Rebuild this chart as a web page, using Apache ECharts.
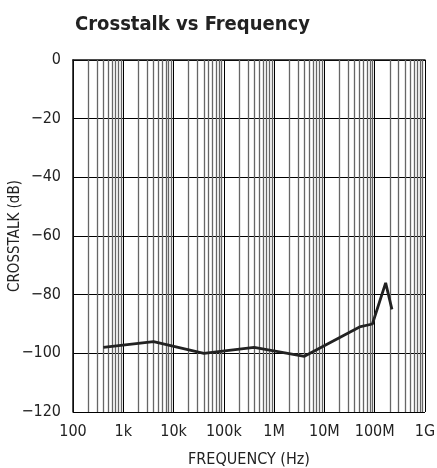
<!DOCTYPE html>
<html>
<head>
<meta charset="UTF-8">
<title>Crosstalk vs Frequency</title>
<script src="https://cdn.jsdelivr.net/npm/echarts@6/dist/echarts.min.js"></script>
<style>
  html, body { margin: 0; padding: 0; background: #fff; }
  #container { width: 437px; height: 468px; }
</style>
</head>
<body>
<div id="container"></div>
<script>
// data
var freqHz = [400, 4e3, 40e3, 400e3, 4e6, 50e6, 90e6, 165e6, 220e6];
var crosstalkDb = [-98, -96, -100, -98, -101, -91, -90, -76, -85];

// tick labels
var xTickValues = [1e2, 1e3, 1e4, 1e5, 1e6, 1e7, 1e8, 1e9];
var xTickLabels = ['100', '1k', '10k', '100k', '1M', '10M', '100M', '1G'];
var yTickValues = [0, -20, -40, -60, -80, -100, -120];
var yTickLabels = ['0', '\u221220', '\u221240', '\u221260', '\u221280', '\u2212100', '\u2212120'];

var font = "'Liberation Sans Narrow', 'DejaVu Sans Condensed', sans-serif";

// minor log grid lines (2..9 in every decade)
var minorLines = [];
for (var d = 0; d < xTickValues.length - 1; d++) {
  for (var m = 2; m <= 9; m++) {
    minorLines.push({ xAxis: xTickValues[d] * m });
  }
}

var points = freqHz.map(function (f, i) { return [f, crosstalkDb[i]]; });

var dom = document.getElementById('container');
var myChart = echarts.init(dom, null, { renderer: 'canvas' });

var option = {
  animation: false,
  title: {
    text: 'Crosstalk vs Frequency',
    left: 70,
    top: 10,
    textStyle: { fontFamily: font, fontWeight: 'bold', fontSize: 20, color: '#222' }
  },
  grid: { left: 73, right: 12, top: 60, bottom: 56, containLabel: false, outerBoundsMode: 'none' },
  xAxis: {
    type: 'log',
    logBase: 10,
    min: 100,
    max: 1e9,
    name: 'FREQUENCY (Hz)',
    nameLocation: 'middle',
    nameGap: 40,
    nameMoveOverlap: false,
    nameTextStyle: { fontFamily: font, fontSize: 16, color: '#222' },
    axisLine: { show: true, lineStyle: { color: '#111', width: 1.5 } },
    axisTick: { show: false },
    axisLabel: {
      margin: 12,
      fontFamily: font,
      fontSize: 16,
      color: '#222',
      formatter: function (v) {
        var i = xTickValues.findIndex(function (t) { return Math.abs(t - v) / t < 1e-6; });
        return i >= 0 ? xTickLabels[i] : '';
      }
    },
    splitLine: { show: true, lineStyle: { color: '#000', width: 1 } }
  },
  yAxis: {
    type: 'value',
    min: -120,
    max: 0,
    interval: 20,
    name: 'CROSSTALK (dB)',
    nameLocation: 'middle',
    nameGap: 50,
    nameMoveOverlap: false,
    nameTextStyle: { fontFamily: font, fontSize: 15, color: '#222' },
    axisLine: { show: true, lineStyle: { color: '#111', width: 1.5 } },
    axisTick: { show: false },
    axisLabel: {
      margin: 12,
      fontFamily: font,
      fontSize: 16,
      color: '#222',
      formatter: function (v) {
        var i = yTickValues.indexOf(v);
        return i >= 0 ? yTickLabels[i] : '';
      }
    },
    splitLine: { show: true, lineStyle: { color: '#000', width: 1 } }
  },
  series: [
    {
      name: 'grid',
      type: 'line',
      data: [],
      silent: true,
      markLine: {
        silent: true,
        symbol: 'none',
        label: { show: false },
        lineStyle: { color: '#666', width: 1.3, type: 'solid' },
        data: minorLines
      }
    },
    {
      name: 'crosstalk',
      type: 'line',
      data: points,
      showSymbol: false,
      lineStyle: { color: '#222', width: 2.8 },
      z: 5
    }
  ]
};

myChart.setOption(option, true);
</script>
</body>
</html>
